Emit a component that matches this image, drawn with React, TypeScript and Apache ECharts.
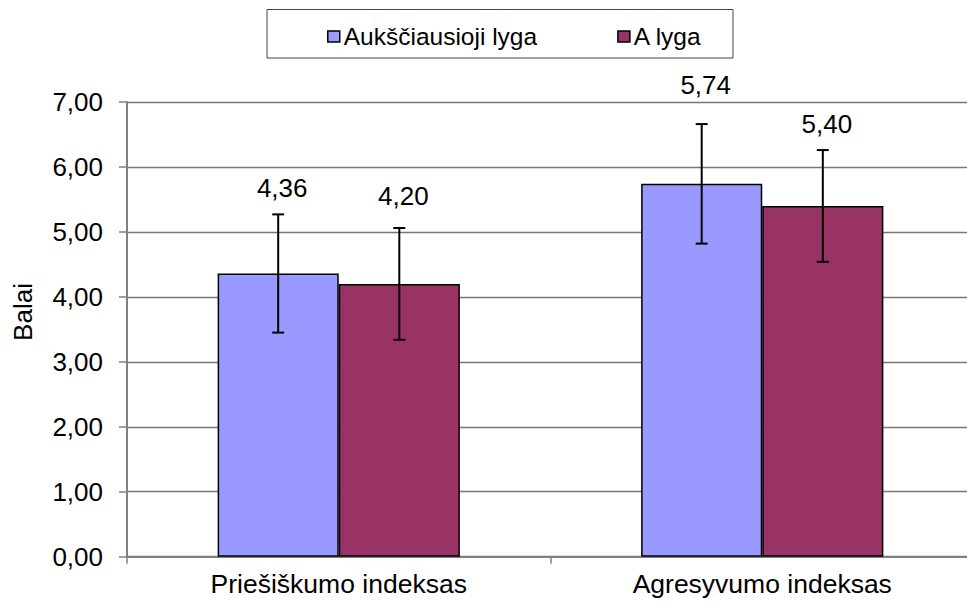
import React, { useEffect, useRef } from "react";
import * as echarts from "echarts";

const categories = ["Priešiškumo indeksas", "Agresyvumo indeksas"];
const seriesNames = ["Aukščiausioji lyga", "A lyga"];
const valuesAuk = [4.36, 5.74];
const valuesA = [4.2, 5.4];
const errorsAuk = [0.91, 0.92];
const errorsA = [0.86, 0.86];
const labelLevelAuk = [5.68, 7.26];
const labelLevelA = [5.55, 6.66];
const yMin = 0;
const yMax = 7;
const yInterval = 1;
const axisTitle = "Balai";

const colors = ["#9999FF", "#993366"];
const FONT = 'Arial, "Liberation Sans", sans-serif';
const fmt = (v: number) => v.toFixed(2).replace(".", ",");

export default function App() {
  const ref = useRef<HTMLDivElement>(null);
  useEffect(() => {
    if (!ref.current) return;
    const chart = echarts.init(ref.current, null, { renderer: "svg" });
    const BAR_FRAC = 0.286;

    const makeErr = (vals: number[], errs: number[], labs: number[], sign: number, key: string) => ({
      type: "custom",
      name: key,
      z: 5,
      data: vals.map((v, i) => [i, v, errs[i], labs[i]]),
      encode: { x: 0, y: 1 },
      renderItem: (params: any, api: any) => {
        const idx = api.value(0);
        const val = api.value(1);
        const err = api.value(2);
        const lab = api.value(3);
        const catW = api.size([1, 0])[0];
        const c = api.coord([idx, val]);
        const x = c[0] + (sign * catW * BAR_FRAC) / 2;
        const yTop = api.coord([idx, val + err])[1];
        const yBot = api.coord([idx, val - err])[1];
        const yLab = api.coord([idx, lab])[1];
        const st = { stroke: "#000", lineWidth: 2 };
        return {
          type: "group",
          children: [
            { type: "line", shape: { x1: x, y1: yTop, x2: x, y2: yBot }, style: st },
            { type: "line", shape: { x1: x - 6, y1: yTop, x2: x + 6, y2: yTop }, style: st },
            { type: "line", shape: { x1: x - 6, y1: yBot, x2: x + 6, y2: yBot }, style: st },
            {
              type: "text",
              x: x + 4,
              y: yLab,
              style: {
                text: fmt(val),
                fill: "#000",
                font: `26px ${FONT}`,
                align: "center",
                verticalAlign: "middle",
              },
            },
          ],
        };
      },
    });

    chart.setOption({
      animation: false,
      backgroundColor: "#fff",
      grid: { left: 127, right: 0, top: 102, bottom: 45.3, containLabel: false },
      legend: {
        data: seriesNames,
        left: 327,
        top: 24,
        padding: 0,
        itemGap: 80,
        itemWidth: 12,
        itemHeight: 11,
        icon: "rect",
        itemStyle: { borderColor: "#000", borderWidth: 1.5 },
        textStyle: { fontFamily: FONT, fontSize: 24.5, color: "#000", padding: [0, 0, 0, -1] },
      },
      graphic: [
        {
          type: "rect",
          shape: { x: 267, y: 9.5, width: 466, height: 48.5 },
          style: { fill: "none", stroke: "#444", lineWidth: 1 },
          z: 10,
        },
        {
          type: "text",
          x: 23,
          y: 312,
          rotation: Math.PI / 2,
          style: {
            text: axisTitle,
            font: `26px ${FONT}`,
            fill: "#000",
            align: "center",
            verticalAlign: "middle",
          },
        },
      ],
      xAxis: {
        type: "category",
        data: categories,
        boundaryGap: true,
        axisLine: { lineStyle: { color: "#808080", width: 2 } },
        axisTick: { show: true, length: 7, lineStyle: { color: "#808080", width: 1.5 } },
        axisLabel: { fontFamily: FONT, fontSize: 26.5, color: "#000", margin: 14 },
        splitLine: { show: false },
      },
      yAxis: {
        type: "value",
        min: yMin,
        max: yMax,
        interval: yInterval,
        axisLine: { show: true, lineStyle: { color: "#808080", width: 2 } },
        axisTick: { show: true, length: 8, lineStyle: { color: "#808080", width: 1.5 } },
        axisLabel: {
          fontFamily: FONT,
          fontSize: 26,
          color: "#000",
          margin: 24,
          formatter: (v: number) => fmt(v),
        },
        splitLine: { show: true, lineStyle: { color: "#777", width: 1.3 } },
      },
      series: [
        {
          name: seriesNames[0],
          type: "bar",
          data: valuesAuk,
          barWidth: `${BAR_FRAC * 100}%`,
          barGap: "0%",
          itemStyle: { color: colors[0], borderColor: "#000", borderWidth: 1.5 },
        },
        {
          name: seriesNames[1],
          type: "bar",
          data: valuesA,
          barWidth: `${BAR_FRAC * 100}%`,
          barGap: "0%",
          itemStyle: { color: colors[1], borderColor: "#000", borderWidth: 1.5 },
        },
        makeErr(valuesAuk, errorsAuk, labelLevelAuk, -1, "errAuk"),
        makeErr(valuesA, errorsA, labelLevelA, 1, "errA"),
      ],
    });
    return () => chart.dispose();
  }, []);
  return (
    <div
      style={{
        position: "absolute",
        left: 0,
        top: 0,
        width: 967,
        height: 602,
        overflow: "hidden",
      }}
    >
      <div ref={ref} style={{ width: 974, height: 602 }} />
    </div>
  );
}
